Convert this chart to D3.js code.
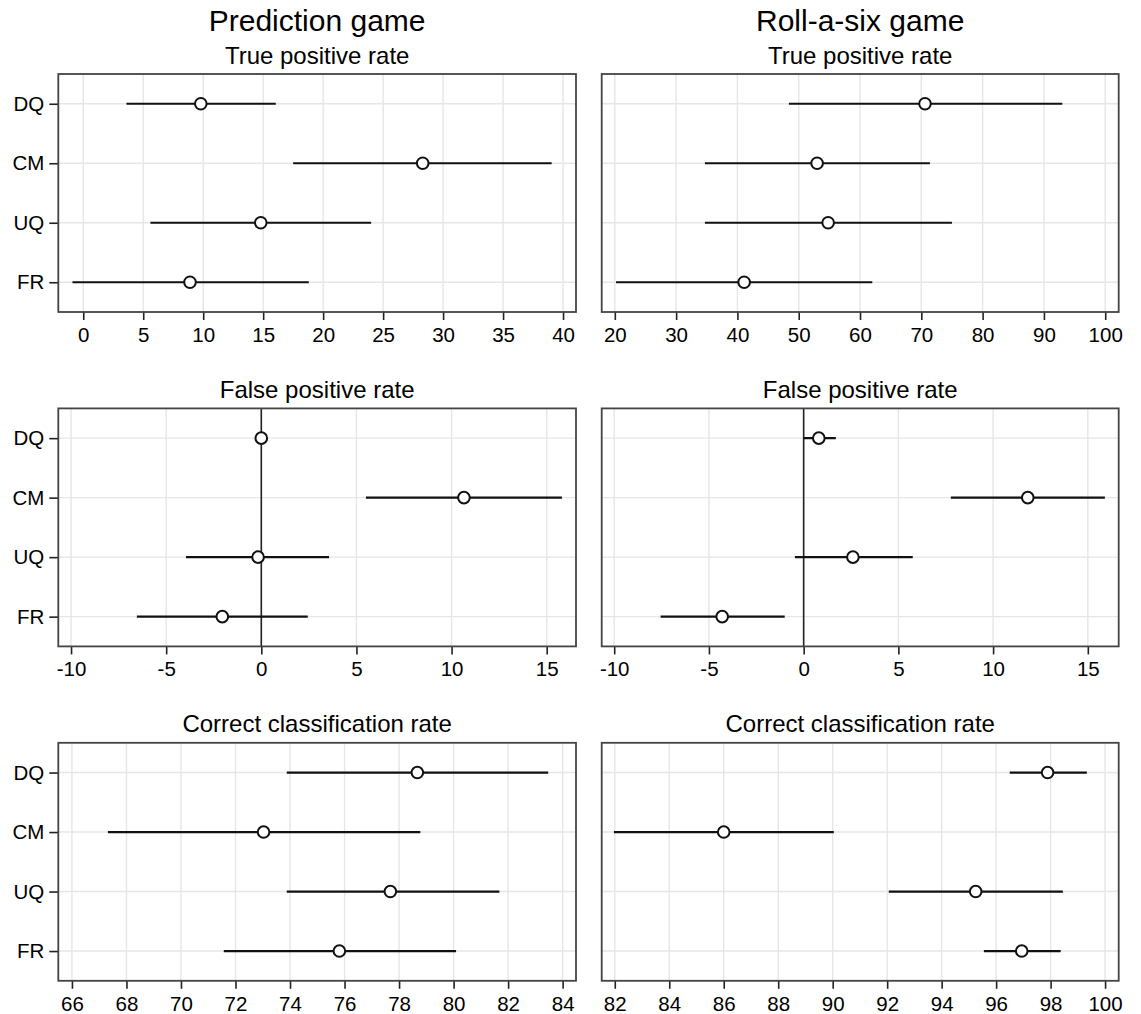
<!DOCTYPE html>
<html><head><meta charset="utf-8">
<script src="https://cdn.jsdelivr.net/npm/d3@7"></script>
<style>
body{margin:0;background:#fff;}
svg{font-family:"Liberation Sans",Arial,Helvetica,sans-serif;}
</style></head>
<body><svg id="c" width="1141" height="1014"></svg>
<script>
// ---- data ----
const categories = ["DQ","CM","UQ","FR"];
const gameTitles = ["Prediction game","Roll-a-six game"];
const measureTitles = ["True positive rate","False positive rate","Correct classification rate"];

const predTPR_est = [9.8, 28.3, 14.8, 8.9];
const predTPR_lo  = [3.6, 17.5, 5.6, -0.9];
const predTPR_hi  = [16.05, 39.05, 24.0, 18.8];

const rollTPR_est = [70.6, 53.0, 54.8, 41.1];
const rollTPR_lo  = [48.4, 34.7, 34.7, 20.2];
const rollTPR_hi  = [93.0, 71.4, 75.0, 62.0];

const predFPR_est = [0.0, 10.65, -0.17, -2.05];
const predFPR_lo  = [0.0, 5.5, -3.96, -6.54];
const predFPR_hi  = [0.0, 15.8, 3.56, 2.44];

const rollFPR_est = [0.8, 11.83, 2.6, -4.3];
const rollFPR_lo  = [0.0, 7.77, -0.46, -7.55];
const rollFPR_hi  = [1.7, 15.9, 5.76, -1.0];

const predCCR_est = [78.67, 73.03, 77.68, 75.81];
const predCCR_lo  = [73.88, 67.32, 73.88, 71.57];
const predCCR_hi  = [83.47, 78.78, 81.68, 80.09];

const rollCCR_est = [97.89, 86.0, 95.25, 96.94];
const rollCCR_lo  = [96.5, 81.97, 92.06, 95.55];
const rollCCR_hi  = [99.33, 90.04, 98.45, 98.37];

// tick values
const predTPR_ticks = [0,5,10,15,20,25,30,35,40];
const rollTPR_ticks = [20,30,40,50,60,70,80,90,100];
const FPR_ticks = [-10,-5,0,5,10,15];
const predCCR_ticks = [66,68,70,72,74,76,78,80,82,84];
const rollCCR_ticks = [82,84,86,88,90,92,94,96,98,100];

// axis extents
const predTPR_dom = [-2.08, 41.08];
const rollTPR_dom = [17.86, 102.2];
const predFPR_dom = [-10.67, 16.54];
const rollFPR_dom = [-10.66, 16.63];
const predCCR_dom = [65.5, 84.49];
const rollCCR_dom = [81.52, 100.5];

const panels = [
  {row:0,col:0,est:predTPR_est,lo:predTPR_lo,hi:predTPR_hi,ticks:predTPR_ticks,dom:predTPR_dom,zero:false},
  {row:0,col:1,est:rollTPR_est,lo:rollTPR_lo,hi:rollTPR_hi,ticks:rollTPR_ticks,dom:rollTPR_dom,zero:false},
  {row:1,col:0,est:predFPR_est,lo:predFPR_lo,hi:predFPR_hi,ticks:FPR_ticks,dom:predFPR_dom,zero:true},
  {row:1,col:1,est:rollFPR_est,lo:rollFPR_lo,hi:rollFPR_hi,ticks:FPR_ticks,dom:rollFPR_dom,zero:true},
  {row:2,col:0,est:predCCR_est,lo:predCCR_lo,hi:predCCR_hi,ticks:predCCR_ticks,dom:predCCR_dom,zero:false},
  {row:2,col:1,est:rollCCR_est,lo:rollCCR_lo,hi:rollCCR_hi,ticks:rollCCR_ticks,dom:rollCCR_dom,zero:false},
];

// ---- layout ----
const colX = [[58.3,576],[601.7,1118.7]];
const rowTop0 = 74, rowStep = 334.4, boxH = 238;
const svg = d3.select("#c");

gameTitles.forEach((t,i)=>{
  svg.append("text").attr("x",(colX[i][0]+colX[i][1])/2).attr("y",30.5)
    .attr("text-anchor","middle").attr("font-size",30).attr("fill","#000").text(t);
});

panels.forEach(p=>{
  const [x0,x1] = colX[p.col];
  const top = rowTop0 + p.row*rowStep, bot = top+boxH;
  const x = d3.scaleLinear().domain(p.dom).range([x0,x1]);
  const y = d3.scalePoint().domain(categories).range([top,bot]).padding(0.5);
  const g = svg.append("g");

  // subtitle
  g.append("text").attr("x",(x0+x1)/2).attr("y",top-10.5).attr("text-anchor","middle")
    .attr("font-size",24).attr("fill","#000").text(measureTitles[p.row]);

  // grid
  g.selectAll(".vg").data(p.ticks).join("line")
    .attr("x1",d=>x(d)).attr("x2",d=>x(d)).attr("y1",top).attr("y2",bot)
    .attr("stroke","#e6e6e6").attr("stroke-width",1.4);
  g.selectAll(".hg").data(categories).join("line")
    .attr("x1",x0).attr("x2",x1).attr("y1",d=>y(d)).attr("y2",d=>y(d))
    .attr("stroke","#e6e6e6").attr("stroke-width",1.4);

  if(p.zero){
    g.append("line").attr("x1",x(0)).attr("x2",x(0)).attr("y1",top).attr("y2",bot)
      .attr("stroke","#222").attr("stroke-width",1.6);
  }

  // x axis
  const ax = g.append("g").attr("transform",`translate(0,${bot})`)
    .call(d3.axisBottom(x).tickValues(p.ticks).tickSize(8).tickPadding(7.5).tickFormat(d=>String(d)));
  ax.select(".domain").remove();
  ax.selectAll("line").attr("stroke","#222").attr("stroke-width",1.6);
  ax.selectAll("text").attr("font-size",20.5).attr("fill","#000").attr("font-family",null);

  // y axis (left column only)
  if(p.col===0){
    const ay = g.append("g").attr("transform",`translate(${x0},0)`)
      .call(d3.axisLeft(y).tickSize(9).tickPadding(5));
    ay.select(".domain").remove();
    ay.selectAll("line").attr("stroke","#222").attr("stroke-width",1.6);
    ay.selectAll("text").attr("font-size",20.5).attr("fill","#000").attr("font-family",null);
  }

  // intervals
  g.selectAll(".ci").data(categories).join("line")
    .attr("x1",(d,i)=>x(p.lo[i])).attr("x2",(d,i)=>x(p.hi[i]))
    .attr("y1",d=>y(d)).attr("y2",d=>y(d))
    .attr("stroke","#111").attr("stroke-width",2.2);
  g.selectAll(".pt").data(categories).join("circle")
    .attr("cx",(d,i)=>x(p.est[i])).attr("cy",d=>y(d)).attr("r",5.8)
    .attr("fill","#fff").attr("stroke","#111").attr("stroke-width",2);

  // box
  g.append("rect").attr("x",x0).attr("y",top).attr("width",x1-x0).attr("height",boxH)
    .attr("fill","none").attr("stroke","#444").attr("stroke-width",1.8);
});
</script></body></html>
